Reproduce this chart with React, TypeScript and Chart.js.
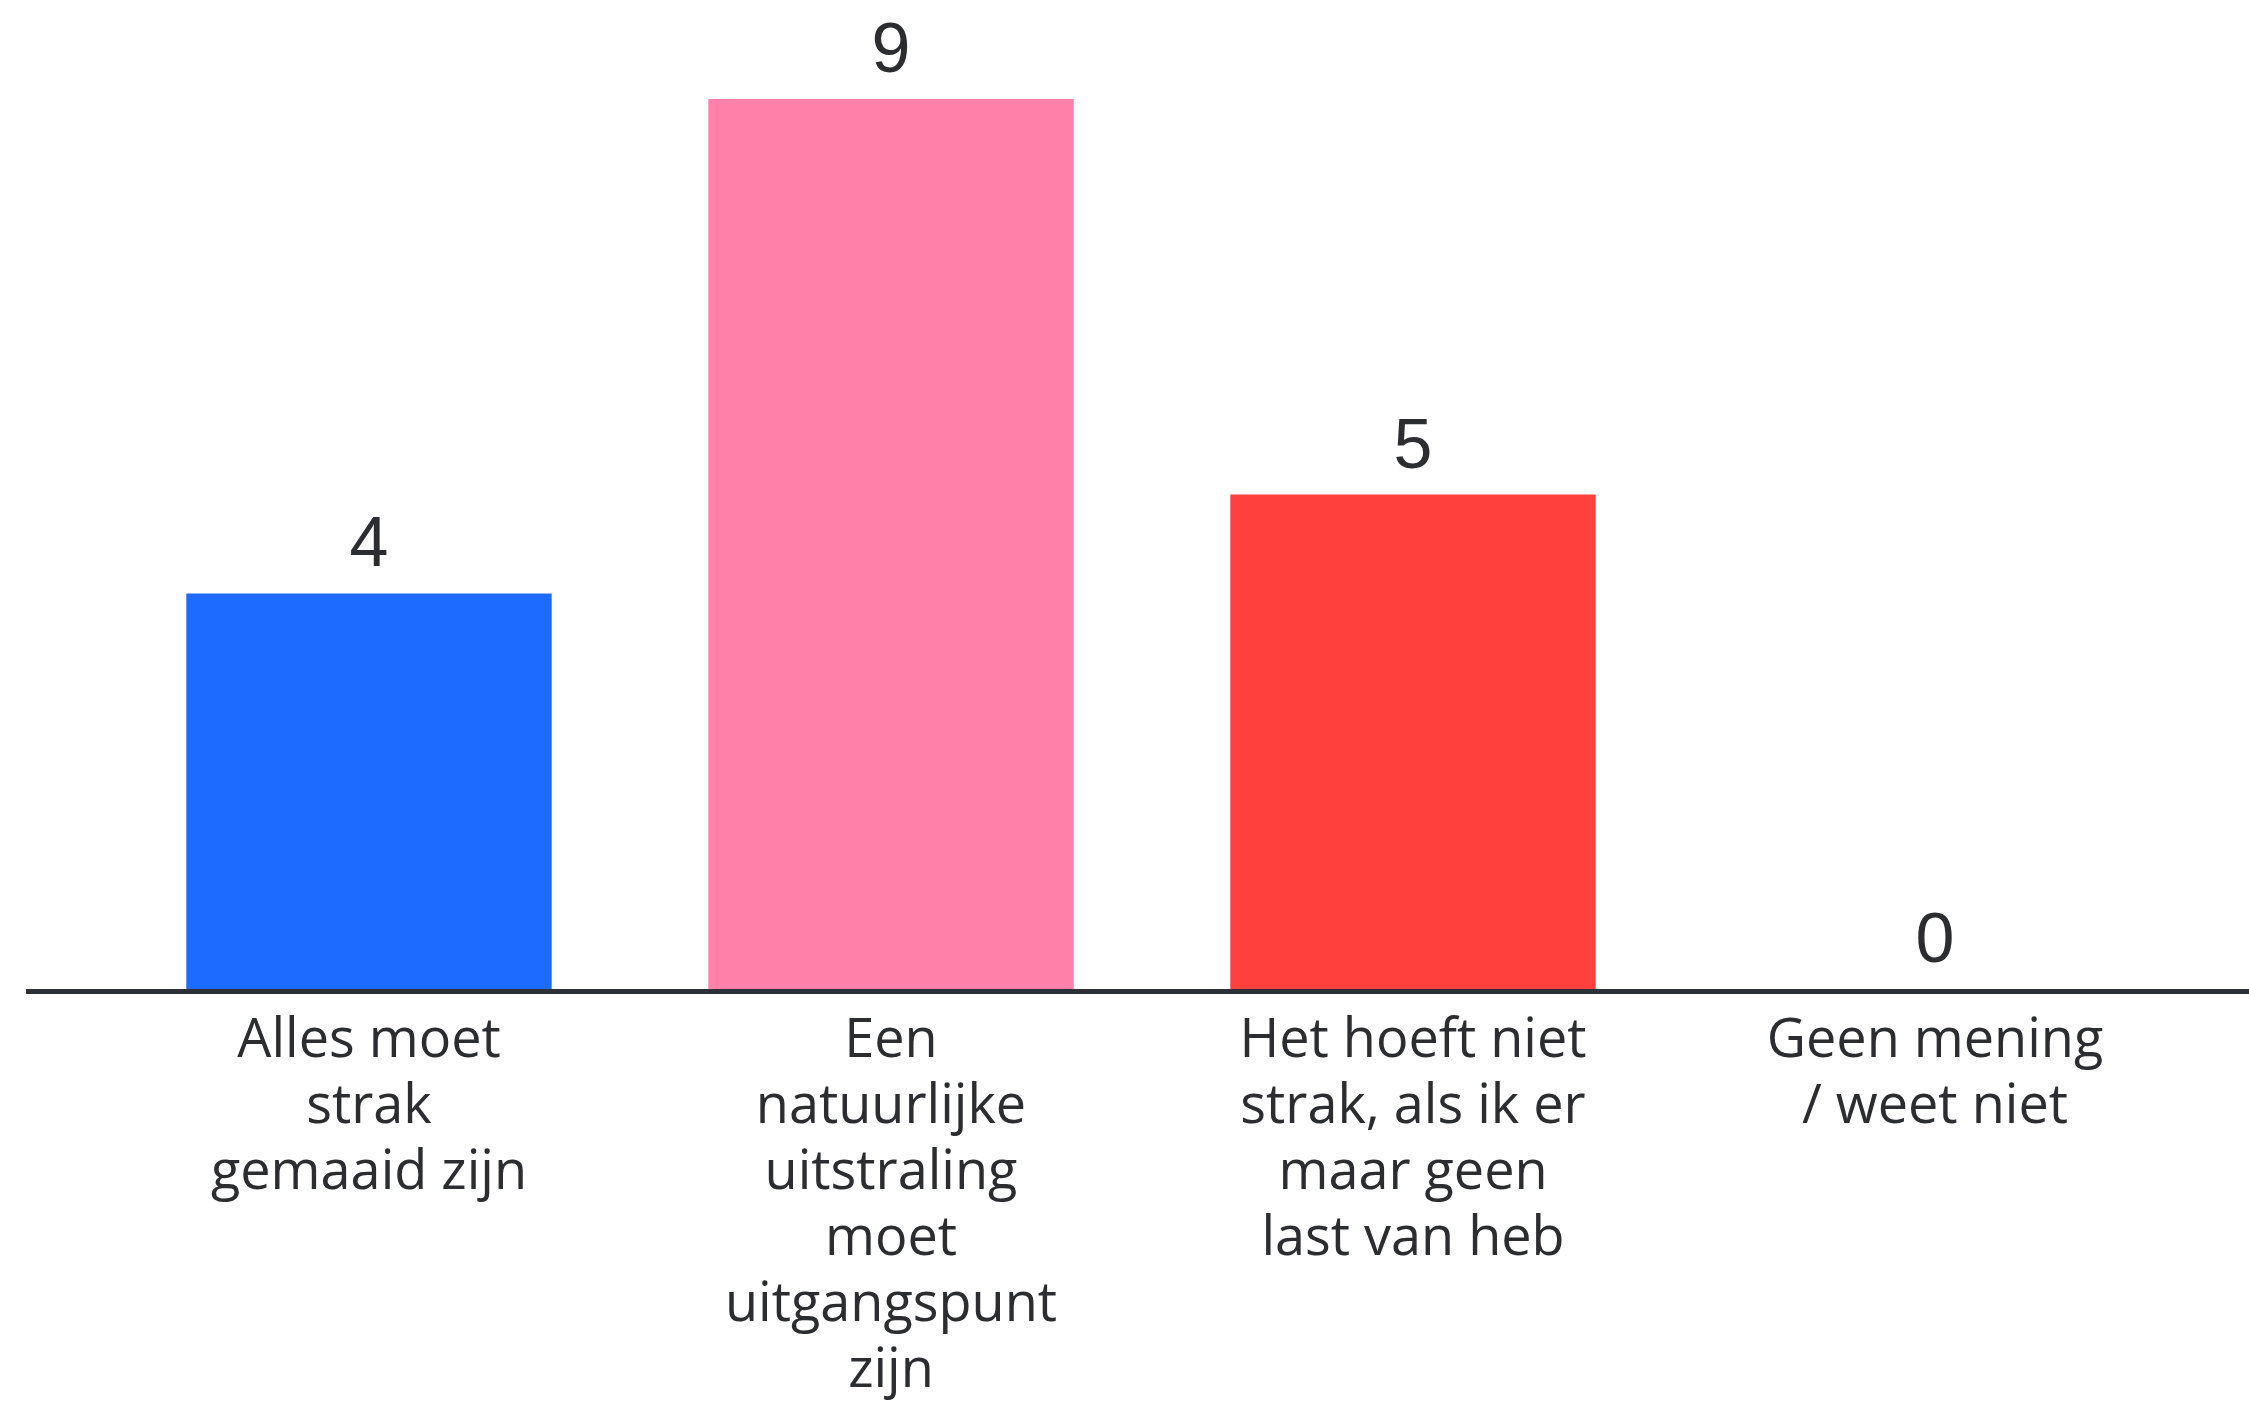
import React, { useEffect, useRef } from "react";
import { Chart, registerables } from "chart.js";

Chart.register(...registerables);

const categories: string[][] = [
  ["Alles moet", "strak", "gemaaid zijn"],
  ["Een", "natuurlijke", "uitstraling", "moet", "uitgangspunt", "zijn"],
  ["Het hoeft niet", "strak, als ik er", "maar geen", "last van heb"],
  ["Geen mening", "/ weet niet"],
];
const values: number[] = [4, 9, 5, 0];
const barColors: string[] = ["#1d6cff", "#ff81aa", "#ff403d", "#9a9a9a"];
const yMin = 0;
const yMax = 10;

const TEXT_COLOR = "#2b2d31";

const valueLabelPlugin = {
  id: "valueLabels",
  afterDatasetsDraw(chart: any) {
    const ctx = chart.ctx;
    const meta = chart.getDatasetMeta(0);
    const yScale = chart.scales.y;
    ctx.save();
    ctx.font = '70px "Liberation Sans", Arial, sans-serif';
    ctx.fillStyle = TEXT_COLOR;
    ctx.textAlign = "center";
    ctx.textBaseline = "alphabetic";
    meta.data.forEach((bar: any, i: number) => {
      const v = values[i];
      const top = yScale.getPixelForValue(v);
      ctx.fillText(String(v), bar.x, top - 27);
    });
    ctx.restore();
  },
};

const baseLinePlugin = {
  id: "baseLine",
  afterDraw(chart: any) {
    const ctx = chart.ctx;
    const y = chart.scales.y.getPixelForValue(0) + 2.5;
    ctx.save();
    ctx.strokeStyle = "#2d3035";
    ctx.lineWidth = 5;
    ctx.beginPath();
    ctx.moveTo(26, y);
    ctx.lineTo(chart.width, y);
    ctx.stroke();
    ctx.restore();
  },
};

export default function App() {
  const canvasRef = useRef<HTMLCanvasElement | null>(null);

  useEffect(() => {
    if (!canvasRef.current) return;
    const chart = new Chart(canvasRef.current, {
      type: "bar",
      data: {
        labels: categories,
        datasets: [
          {
            data: values,
            backgroundColor: barColors,
            borderWidth: 0,
            barPercentage: 0.7,
            categoryPercentage: 1.0,
          },
        ],
      },
      options: {
        animation: false,
        responsive: false,
        maintainAspectRatio: false,
        layout: { padding: { left: 108, right: 53, top: 0, bottom: 0 } },
        plugins: {
          legend: { display: false },
          tooltip: { enabled: false },
          title: { display: false },
        },
        scales: {
          x: {
            grid: { display: false, drawTicks: false },
            border: { display: false },
            ticks: {
              color: TEXT_COLOR,
              padding: 20,
              maxRotation: 0,
              autoSkip: false,
              font: { family: "'Open Sans', Lato, sans-serif", size: 54, lineHeight: 1.222 },
            },
            afterFit: (scale: any) => {
              scale.height = 416;
            },
          },
          y: {
            display: false,
            min: yMin,
            max: yMax,
          },
        },
      },
      plugins: [valueLabelPlugin, baseLinePlugin],
    });
    return () => chart.destroy();
  }, []);

  return (
    <div style={{ position: "fixed", left: 0, top: 0, width: 2249, height: 1405, background: "#ffffff" }}>
      <canvas ref={canvasRef} width={2249} height={1405} style={{ width: 2249, height: 1405, display: "block" }} />
    </div>
  );
}
